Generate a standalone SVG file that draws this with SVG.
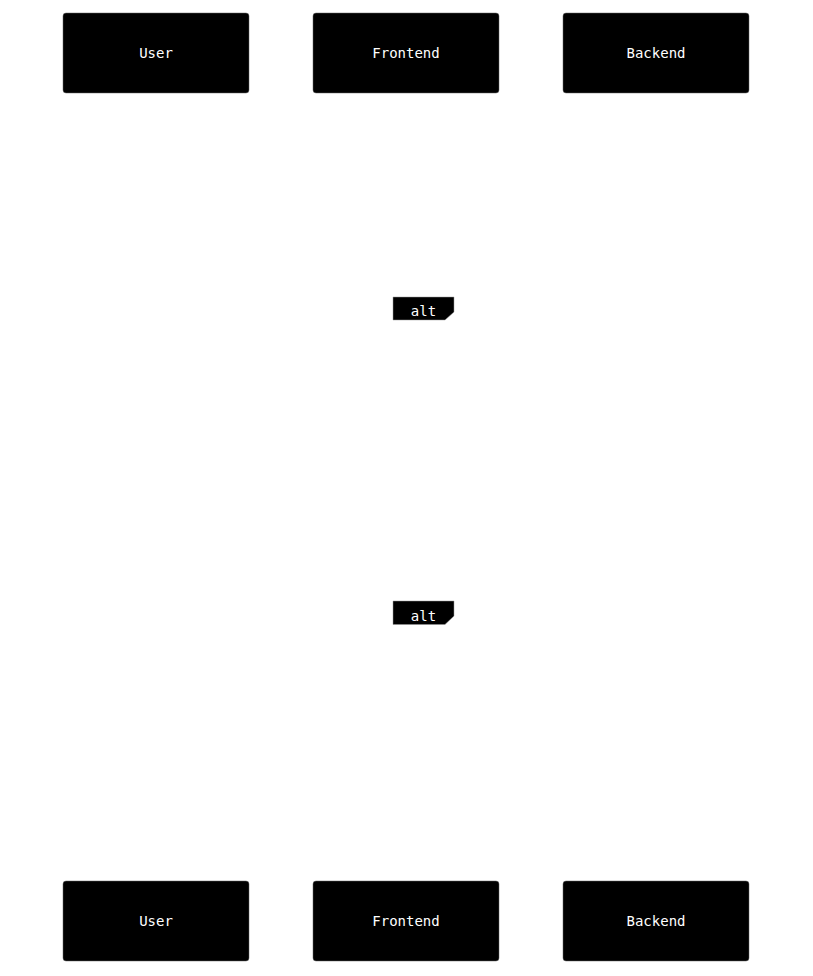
<svg xmlns="http://www.w3.org/2000/svg" width="813" height="976" viewBox="0 0 813 976">
<style>
.actor{fill:#000;stroke:#666;stroke-width:0.5}
.atext{fill:#fff;font-family:"DejaVu Sans Mono","Liberation Mono",monospace;font-size:14px;text-anchor:middle;dominant-baseline:central}
.lbox{fill:#000;stroke:#999;stroke-width:0.5}
.ltext{fill:#fff;font-family:"DejaVu Sans Mono","Liberation Mono",monospace;font-size:14px;text-anchor:middle;dominant-baseline:central}
</style>
<rect width="813" height="976" fill="#fff"/>
<g id="connectors"></g>
<g id="actor-user-top"><rect class="actor" x="63" y="13" width="186" height="80" rx="3"/><text class="atext" x="156" y="53">User</text></g>
<g id="actor-frontend-top"><rect class="actor" x="313" y="13" width="186" height="80" rx="3"/><text class="atext" x="406" y="53">Frontend</text></g>
<g id="actor-backend-top"><rect class="actor" x="563" y="13" width="186" height="80" rx="3"/><text class="atext" x="656" y="53">Backend</text></g>
<g id="alt-1"><polygon class="lbox" points="393,297 454,297 454,312 445,320 393,320"/><text class="ltext" x="423.5" y="311">alt</text></g>
<g id="alt-2"><polygon class="lbox" points="393,601 454,601 454,616 445,624.5 393,624.5"/><text class="ltext" x="423.5" y="616">alt</text></g>
<g id="actor-user-bottom"><rect class="actor" x="63" y="881" width="186" height="80" rx="3"/><text class="atext" x="156" y="921">User</text></g>
<g id="actor-frontend-bottom"><rect class="actor" x="313" y="881" width="186" height="80" rx="3"/><text class="atext" x="406" y="921">Frontend</text></g>
<g id="actor-backend-bottom"><rect class="actor" x="563" y="881" width="186" height="80" rx="3"/><text class="atext" x="656" y="921">Backend</text></g>
</svg>
